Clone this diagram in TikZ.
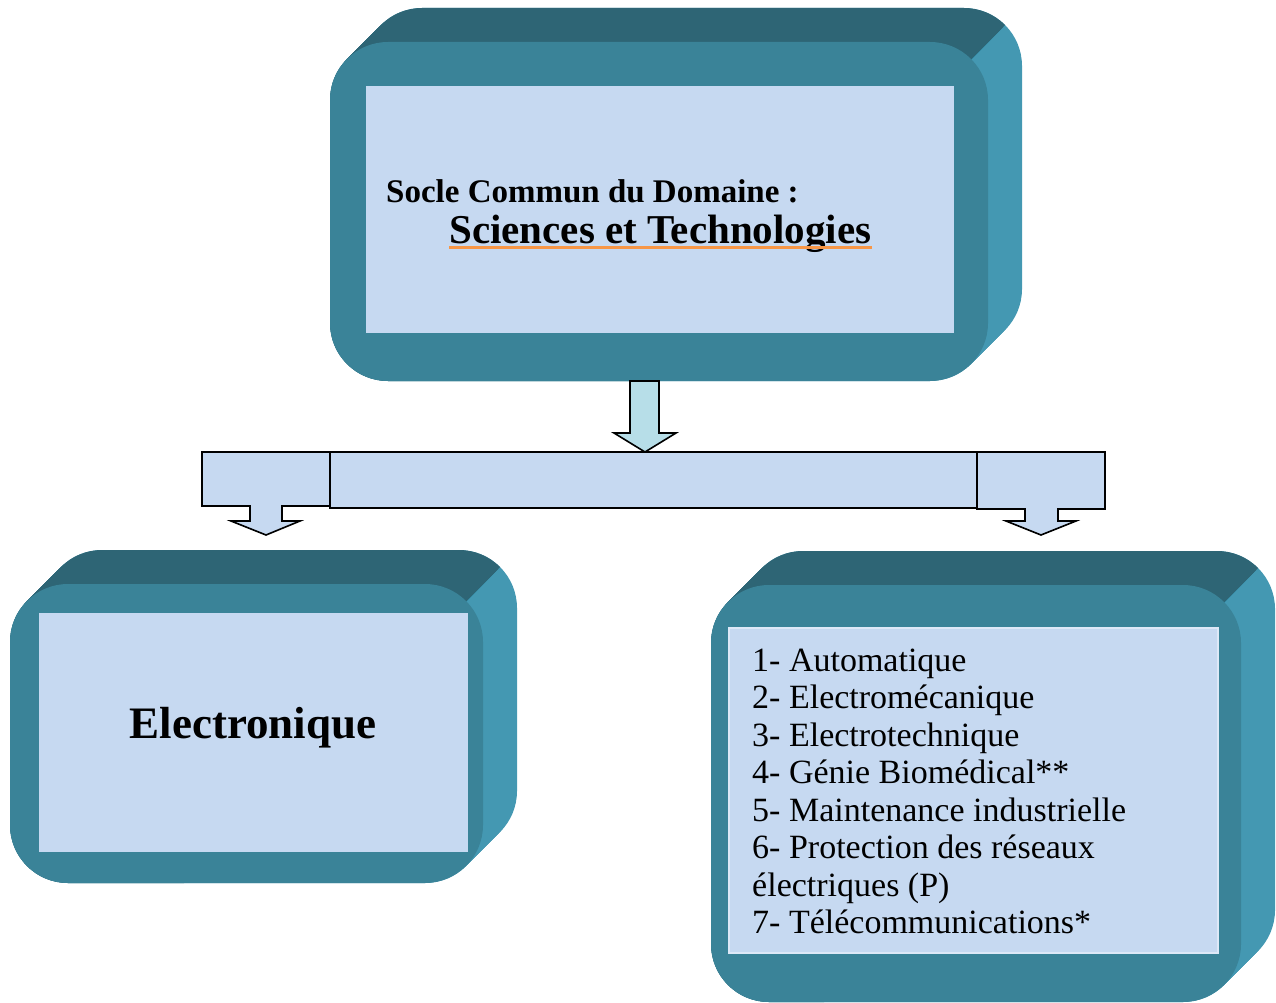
\documentclass[tikz,border=0pt]{standalone}
\usepackage{fontspec}
\setmainfont{Liberation Serif}
\definecolor{frontc}{HTML}{3A8398}
\definecolor{topc}{HTML}{2E6575}
\definecolor{sidec}{HTML}{4498B2}
\definecolor{innerc}{HTML}{C6D9F1}
\definecolor{arrowc}{HTML}{B7DEE8}
\definecolor{barc}{HTML}{C6D9F1}
\definecolor{ulc}{HTML}{F79646}
\newcommand{\tdbox}[4]{%
  \foreach \s in {0,2,...,34} {\fill[sidec, rounded corners=58pt] (#1+\s,#2-\s) rectangle (#3+\s,#4-\s);}
  \begin{scope}
    \clip (#3-58-1500,#2+58+1500) -- (#3-58+1500,#2+58-1500) -- (#3-58-1500,#2+58-1500) -- cycle;
    \foreach \s in {0,2,...,34} {\fill[topc, rounded corners=58pt] (#1+\s,#2-\s) rectangle (#3+\s,#4-\s);}
  \end{scope}
  \fill[frontc, rounded corners=58pt] (#1,#2) rectangle (#3,#4);
}
\tikzset{
  innerbox/.style={fill=innerc, draw=none, inner sep=0pt},
  blockarrow/.style={fill=barc, draw=black, line width=1.6pt, line join=miter},
  txt/.style={inner sep=0pt, anchor=base west, text=black},
}
\begin{document}
\begin{tikzpicture}[x=1pt, y=-1pt]
\useasboundingbox (0,0) rectangle (1276,1003);
% top box
\tdbox{330}{42}{988}{381}
\fill[innerbox] (366,86) rectangle (954,333);
\node[txt, font=\bfseries\fontsize{33}{38}\selectfont] (socle) at (386,203) {Socle Commun du Domaine :};
\node[txt, font=\bfseries\fontsize{41}{46}\selectfont] (sci) at (449,243) {Sciences et Technologies};
\draw[ulc, line width=3pt] ([yshift=-4pt]sci.base west) -- ([yshift=-4pt]sci.base east);
% arrows
\draw[blockarrow, fill=arrowc] (630,381) -- (659,381) -- (659,433) -- (676,433) -- (645,452) -- (614,433) -- (630,433) -- cycle;
\draw[blockarrow] (202,452) -- (330,452) -- (330,506) -- (282,506) -- (282,521) -- (300,521) -- (266,535) -- (231,521) -- (250,521) -- (250,506) -- (202,506) -- cycle;
\draw[blockarrow] (977,452) -- (1105,452) -- (1105,509) -- (1058,509) -- (1058,521) -- (1076,521) -- (1041,535) -- (1006,521) -- (1025,521) -- (1025,509) -- (977,509) -- cycle;
\draw[blockarrow] (330,452) rectangle (977,508);
% left box
\tdbox{10}{584}{483}{883}
\fill[innerbox] (39,613) rectangle (468,852);
\node[inner sep=0pt, anchor=base, font=\bfseries\fontsize{45}{50}\selectfont] (elec) at (253,738) {Electronique};
% right box
\tdbox{711}{585}{1241}{1002}
\fill[innerbox, draw=white!40!innerc, line width=1.5pt] (729,628) rectangle (1218,953);
\foreach \t [count=\i from 0] in {1- Automatique, 2- Electromécanique, 3- Electrotechnique, 4- Génie Biomédical**, 5- Maintenance industrielle, 6- Protection des réseaux, électriques (P), 7- Télécommunications*}
  \node[txt, font=\fontsize{34}{37.5}\selectfont] (l\i) at (752,671+37.5*\i) {\t};
\end{tikzpicture}
\end{document}
